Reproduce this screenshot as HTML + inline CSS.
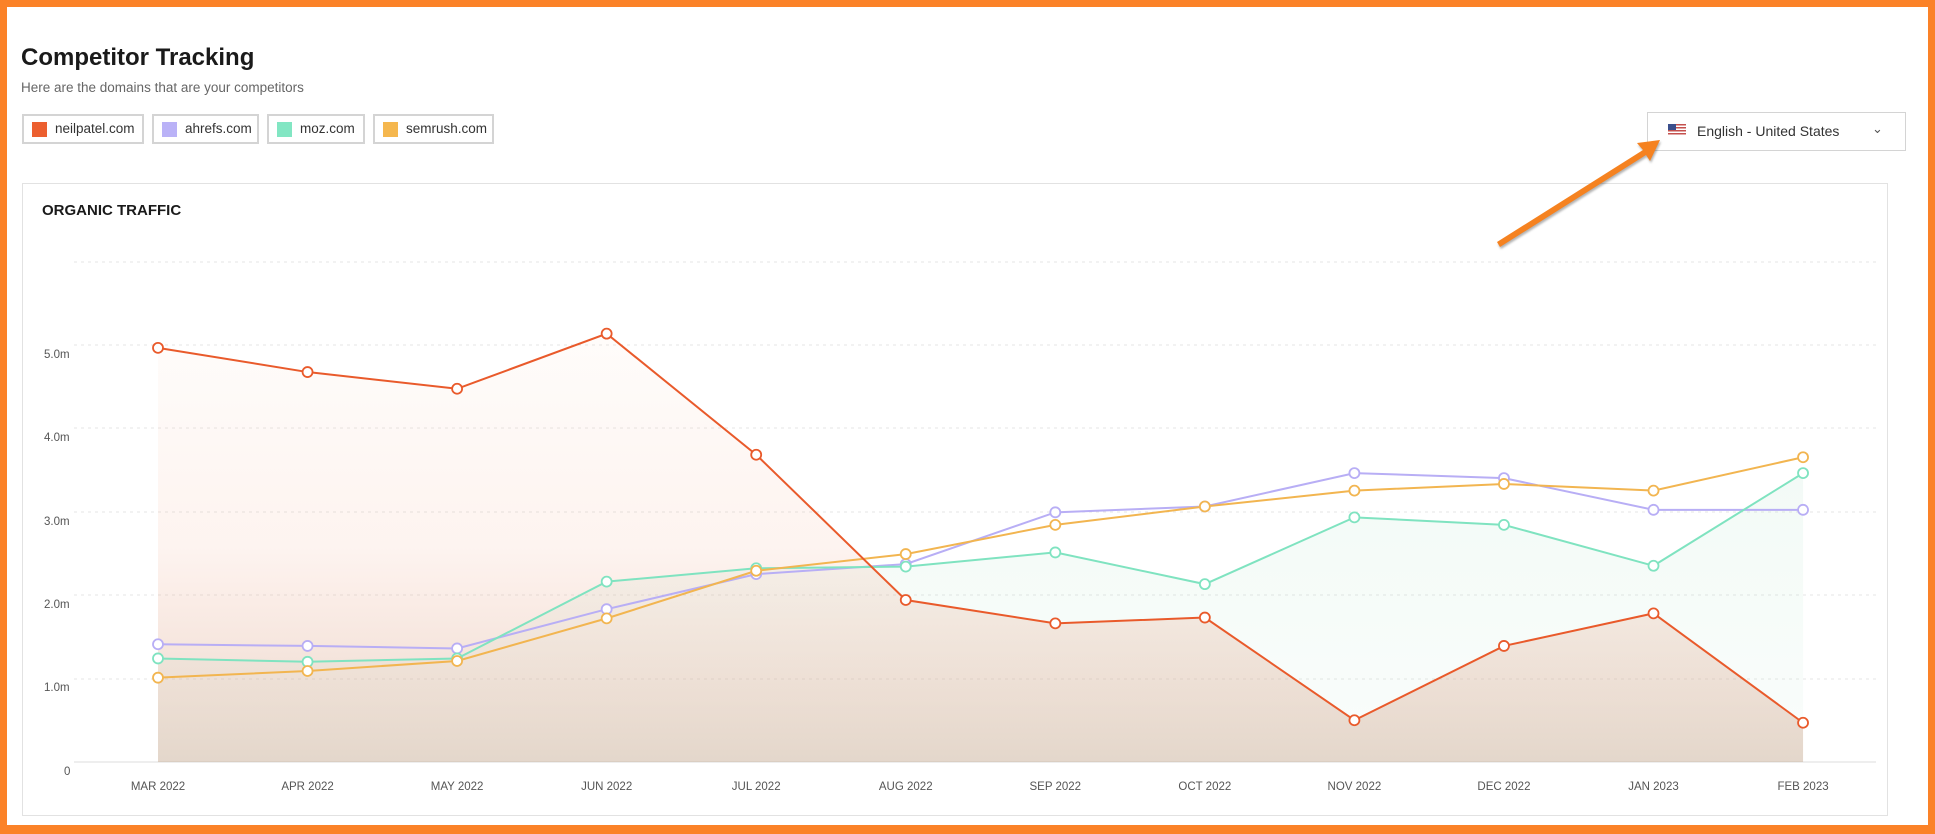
<!DOCTYPE html>
<html><head><meta charset="utf-8"><style>
body{margin:0;width:1935px;height:834px;overflow:hidden;font-family:"Liberation Sans",sans-serif;}
.frame{position:absolute;left:0;top:0;width:1935px;height:834px;box-sizing:border-box;border:solid #fb8228;border-width:7px 7px 9px 7px;background:#fff;}
.t{position:absolute;white-space:nowrap;}
.lg{position:absolute;top:114px;height:30px;box-sizing:border-box;border:2px solid #d4d4d4;font-size:13.5px;color:#333;line-height:26px;padding-left:31px;}
.lg i{position:absolute;left:8px;top:6px;width:15px;height:15px;}
</style></head><body>
<div class="frame"></div>
<div class="t" style="left:21px;top:44px;font-size:24px;font-weight:bold;color:#1a1a1a;">Competitor Tracking</div>
<div class="t" style="left:21px;top:80px;font-size:13.5px;color:#666;">Here are the domains that are your competitors</div>
<div class="lg" style="left:22px;width:122px;"><i style="background:#ec5f2f"></i>neilpatel.com</div>
<div class="lg" style="left:152px;width:107px;"><i style="background:#bab2f7"></i>ahrefs.com</div>
<div class="lg" style="left:267px;width:98px;"><i style="background:#82e6c3"></i>moz.com</div>
<div class="lg" style="left:373px;width:121px;"><i style="background:#f5b74e"></i>semrush.com</div>
<div style="position:absolute;left:1647px;top:112px;width:259px;height:39px;box-sizing:border-box;border:1px solid #d4d4d4;background:#fff;"></div>
<div style="position:absolute;left:1668px;top:124px;width:18px;height:12px;background:repeating-linear-gradient(#c4504e 0 1.5px,#fff 1.5px 3px);"></div>
<div style="position:absolute;left:1668px;top:124px;width:8px;height:6px;background:#3b4f8c;"></div>
<div class="t" style="left:1697px;top:123px;font-size:14px;color:#333;">English - United States</div>
<div class="t" style="left:1872px;top:121px;font-size:13px;color:#555;">&#8964;</div>
<div style="position:absolute;left:22px;top:183px;width:1866px;height:633px;box-sizing:border-box;border:1px solid #e2e2e2;"></div>
<div class="t" style="left:42px;top:202px;font-size:15px;font-weight:bold;color:#1a1a1a;">ORGANIC TRAFFIC</div>
<svg style="position:absolute;left:0;top:0" width="1935" height="834">
<defs>
<linearGradient id="gn" x1="0" y1="0" x2="0" y2="1"><stop offset="0" stop-color="#f7a070" stop-opacity="0.03"/><stop offset="0.5" stop-color="#f0a080" stop-opacity="0.12"/><stop offset="1" stop-color="#c8a890" stop-opacity="0.45"/></linearGradient>
<linearGradient id="gm" x1="0" y1="0" x2="0" y2="1"><stop offset="0" stop-color="#9ad8b8" stop-opacity="0.12"/><stop offset="1" stop-color="#9ad8b8" stop-opacity="0.05"/></linearGradient>
</defs>
<g stroke="#e6e6e6" stroke-dasharray="3,4" stroke-width="1">
<line x1="74" x2="1876" y1="262" y2="262"/><line x1="74" x2="1876" y1="345" y2="345"/><line x1="74" x2="1876" y1="428" y2="428"/><line x1="74" x2="1876" y1="512" y2="512"/><line x1="74" x2="1876" y1="595" y2="595"/><line x1="74" x2="1876" y1="679" y2="679"/>
</g>
<line x1="74" x2="1876" y1="762" y2="762" stroke="#ddd"/>
<g font-size="11.5" fill="#555" font-family="Liberation Sans">
<text x="44" y="358">5.0m</text><text x="44" y="441">4.0m</text><text x="44" y="525">3.0m</text><text x="44" y="608">2.0m</text><text x="44" y="691">1.0m</text><text x="64" y="775">0</text>
</g>
<g font-size="11.5" fill="#555" text-anchor="middle" font-family="Liberation Sans" id="xl"></g>
<g id="plot"></g>
<polygon points="1497,242 1643,150 1637,143 1660,140 1650,161 1646,155 1500,247" fill="#f58220" style="filter:drop-shadow(1px 2px 1px rgba(0,0,0,0.3))"/>
</svg>
<script>
var X=i=>158+i*149.55, Y=v=>762-v*83.5;
var L=["MAR 2022","APR 2022","MAY 2022","JUN 2022","JUL 2022","AUG 2022","SEP 2022","OCT 2022","NOV 2022","DEC 2022","JAN 2023","FEB 2023"];
var S=[
["#9ad8b8",[1.24,1.20,1.24,2.16,2.32,2.34,2.51,2.13,2.93,2.84,2.35,3.46],"#7fe3c0","url(#gm)"],
["#f7a070",[4.96,4.67,4.47,5.13,3.68,1.94,1.66,1.73,0.50,1.39,1.78,0.47],"#e95a2b","url(#gn)"],
[0,[1.41,1.39,1.36,1.83,2.25,2.37,2.99,3.06,3.46,3.40,3.02,3.02],"#b8aef5",null],
[0,[1.01,1.09,1.21,1.72,2.29,2.49,2.84,3.06,3.25,3.33,3.25,3.65],"#f2b550",null]];
var ns="http://www.w3.org/2000/svg",p=document.getElementById("plot"),xl=document.getElementById("xl");
L.forEach((l,i)=>{var t=document.createElementNS(ns,"text");t.setAttribute("x",X(i));t.setAttribute("y",790);t.textContent=l;xl.appendChild(t);});
function el(n,a){var e=document.createElementNS(ns,n);for(var k in a)e.setAttribute(k,a[k]);p.appendChild(e);return e;}
S.forEach(s=>{if(!s[3])return;var pts=s[1].map((v,i)=>X(i)+","+Y(v)).join(" ");el("polygon",{points:X(0)+",762 "+pts+" "+X(11)+",762",fill:s[3]});});
var ord=[2,0,3,1];
ord.forEach(k=>{var s=S[k];el("polyline",{points:s[1].map((v,i)=>X(i)+","+Y(v)).join(" "),fill:"none",stroke:s[2],"stroke-width":2});});
ord.forEach(k=>{var s=S[k];s[1].forEach((v,i)=>el("circle",{cx:X(i),cy:Y(v),r:5,fill:"#fff",stroke:s[2],"stroke-width":1.8}));});
</script>
</body></html>
